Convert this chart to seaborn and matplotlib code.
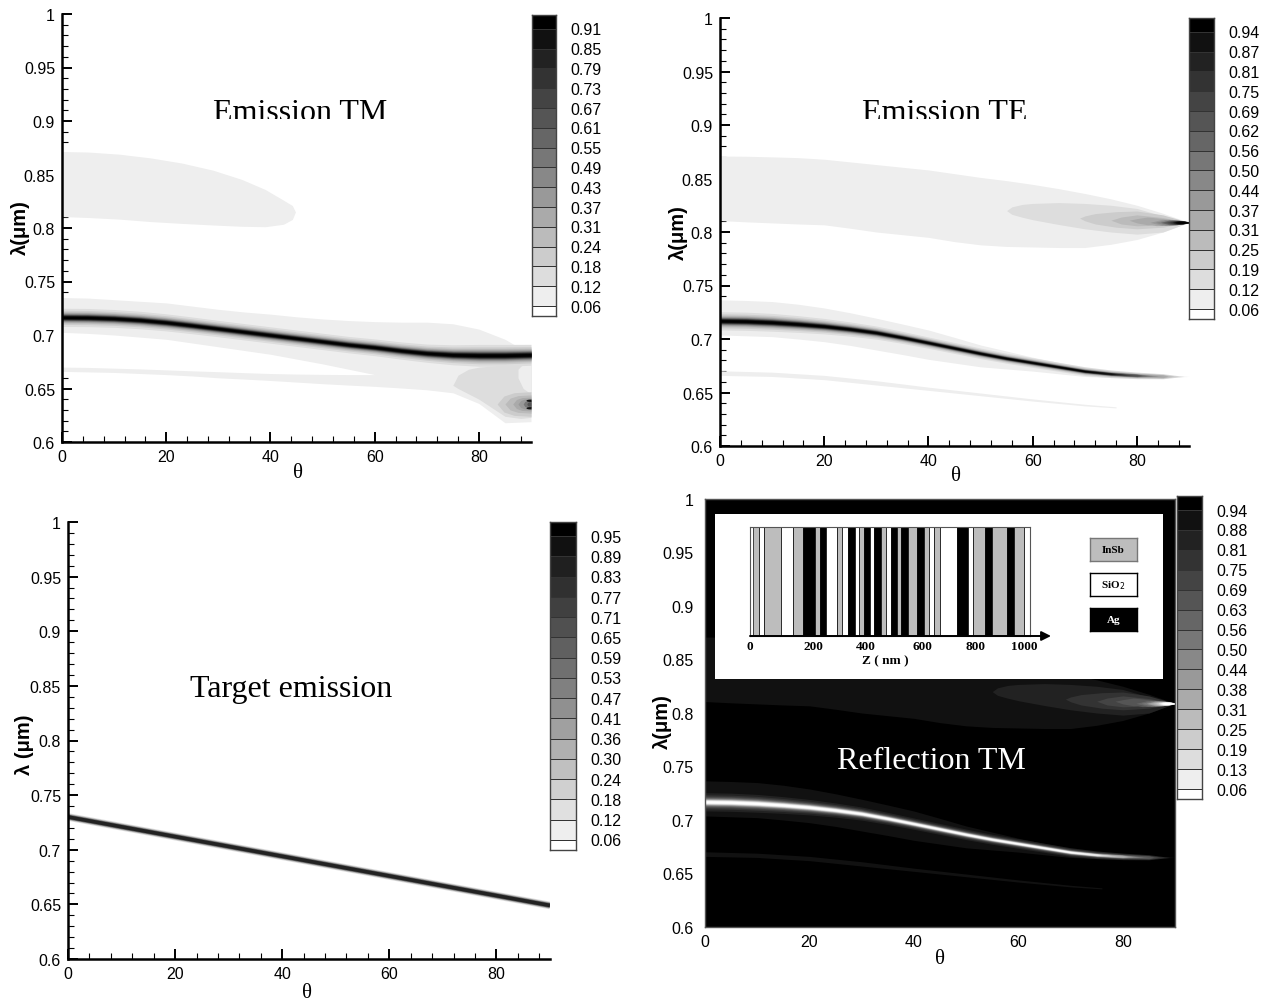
import numpy as np
import seaborn as sns
import matplotlib.pyplot as plt
from matplotlib.transforms import Bbox

W, H = 1269, 1003

# ---------- colour bar levels ----------
labels_tm = ['0.91', '0.85', '0.79', '0.73', '0.67', '0.61', '0.55', '0.49', '0.43', '0.37', '0.31', '0.24', '0.18', '0.12', '0.06']
labels_te = ['0.94', '0.87', '0.81', '0.75', '0.69', '0.62', '0.56', '0.50', '0.44', '0.37', '0.31', '0.25', '0.19', '0.12', '0.06']
labels_target = ['0.95', '0.89', '0.83', '0.77', '0.71', '0.65', '0.59', '0.53', '0.47', '0.41', '0.36', '0.30', '0.24', '0.18', '0.12', '0.06']
labels_refl = ['0.94', '0.88', '0.81', '0.75', '0.69', '0.63', '0.56', '0.50', '0.44', '0.38', '0.31', '0.25', '0.19', '0.13', '0.06']

greys = ['#000000', '#111111', '#222222', '#333333', '#444444', '#555555', '#666666', '#777777',
         '#888888', '#999999', '#aaaaaa', '#bbbbbb', '#cccccc', '#dddddd', '#eeeeee', '#ffffff']
greys_target = ['#000000', '#111111', '#202020', '#303030', '#404040', '#505050', '#606060', '#707070', '#808080',
                '#909090', '#a0a0a0', '#b0b0b0', '#c0c0c0', '#d0d0d0', '#e0e0e0', '#eeeeee', '#ffffff']

# ---------- curves, stations every 5 degrees ----------
theta = np.arange(0, 95, 5)

# half width of the ridge at the levels 0.12 ... 0.91 (um)
ridge_levels = [0.0085, 0.0066, 0.0054, 0.0046, 0.0040, 0.0035, 0.0031, 0.0028, 0.0025, 0.0022, 0.0020, 0.0017, 0.0014, 0.0010]

tm_centre = [.7165, .7163, .7155, .714, .7118, .709, .706, .703, .700, .697, .694, .691, .6885, .6855, .683, .6815, .681, .681, .6815]
tm_width = [1.0, 1.0, .98, .96, .94, .92, .9, .9, .9, .9, .9, .9, .92, .95, 1.0, 1.1, 1.2, 1.2, 1.15]
tm_top = [.735, .7345, .733, .7315, .730, .727, .724, .7215, .7195, .717, .715, .7135, .7125, .712, .712, .7105, .7055, .696, .682]
tm_bottom = [.666, .6655, .665, .664, .663, .6617, .660, .6588, .6575, .656, .6545, .6532, .652, .6505, .6488, .646, .636, .618, .619]
tm_gap_top = [.7025, .7015, .700, .698, .696, .6925, .689, .6855, .682, .6775, .673, .668, .663]
tm_gap_bottom = [.670, .6697, .669, .6683, .6674, .6665, .6657, .6648, .664, .6635, .6632, .663, .663]

tm_lobe_theta = [0, 5, 11, 17, 23, 29, 34.5, 39, 42.5, 44.2, 44.8]
tm_lobe_top = [.8715, .871, .869, .8655, .8607, .854, .8454, .836, .826, .821, .815]
tm_lobe_bottom = [.8107, .8098, .8083, .806, .8043, .8028, .8016, .8012, .8035, .808, .815]

tm_shelf_theta = [75, 76, 78, 80, 85, 88, 90]
tm_shelf_top = [.653, .6625, .668, .670, .672, .672, .672]
tm_shelf_bottom = [.653, .650, .645, .640, .624, .622, .623]
tm_notch_theta = [87.5, 88.5, 90]
tm_notch_top = [.668, .673, .675]
tm_notch_bottom = [.66, .65, .645]
tm_spot_start = [83.5, 85, 86.5, 87.5, 88.5, 89.2]
tm_spot_half = [.0115, .0085, .0065, .005, .0035, .0022]
tm_spot_grey = [12, 11, 10, 9, 7, 5]
tm_dark_spots = [.639, .632]

# theta where each ridge level dies out, TM keeps all of them up to the edge
tm_level_end = [90] * 14
te_level_end = [89, 88, 87, 86, 85, 84, 83, 82, 81, 80, 79, 78, 76, 74]

te_centre = [.717, .7166, .7156, .714, .712, .7093, .706, .7015, .6966, .6916, .6866, .682, .678, .674, .670, .6675, .666, .6652, .665]
te_width = [1.0, 1.0, .98, .92, .85, .78, .72, .66, .62, .6, .58, .55, .53, .5, .48, .42, .36, .28, .1]
te_top = [.7366, .736, .735, .7325, .729, .7245, .7194, .714, .7084, .7015, .6944, .6887, .683, .678, .6734, .6705, .6684, .6665, .665]
te_bottom = [.7038, .703, .7022, .7, .6975, .694, .6897, .6855, .681, .6775, .674, .672, .670, .6675, .665, .664, .6637, .664, .665]
te_side_theta = [0, 10, 20, 30, 40, 50, 60, 70, 76]
te_side_top = [.6703, .669, .666, .661, .655, .6495, .644, .639, .6366]
te_side_bottom = [.666, .665, .662, .657, .652, .647, .642, .6375, .6356]
te_lobe_top = [.871, .8708, .8702, .8695, .868, .8655, .863, .8605, .858, .8545, .851, .848, .8445, .8405, .836, .831, .825, .8175, .809]
te_lobe_bottom = [.8107, .8095, .8085, .8075, .8067, .8035, .800, .7975, .795, .791, .788, .7865, .786, .7855, .7855, .7885, .793, .80, .809]

# nested tongues of the 0.81 um resonance on the right hand side
tongue_theta = [[55, 56, 58, 60, 65, 70, 75, 80, 85, 90], [69, 70, 72, 76, 80, 85, 90], [75, 77, 80, 85, 90], [78.5, 80, 82, 86, 90]]
tongue_top = [[.82, .8235, .8258, .8267, .8275, .8267, .825, .822, .815, .809], [.813, .815, .8172, .819, .8196, .816, .809], [.811, .814, .816, .8135, .809], [.811, .8125, .814, .812, .809]]
tongue_bottom = [[.82, .8165, .8138, .8115, .807, .803, .80, .798, .80, .809], [.813, .8105, .8075, .8045, .803, .8045, .809], [.811, .8075, .8058, .8065, .809], [.811, .8085, .8068, .8075, .809]]
core_start = [81, 82.5, 83.5, 84.5, 85.2, 85.8, 86.3, 86.8, 87.3]
core_half = [.0036, .0032, .0028, .0025, .0022, .002, .0018, .0016, .0014]
core_grey = [10, 9, 8, 6, 5, 4, 3, 1, 0]

target_theta = [0, 30, 60, 90]
target_lambda = [.730, .703, .676, .649]

# ---------- layer stack of the inset ----------
layer_thickness = [21, 20, 61, 44, 39, 44, 17, 24, 40, 20, 20, 26, 16, 16, 24, 16, 24, 18,
                   18, 24, 15, 25, 34, 24, 18, 21, 22, 60, 44, 18, 42, 25, 57, 27, 37, 21]
layer_material = list('gwgwgbgbwgwbwgbwbgwbgbgbgwgwbwgbgbgw')
material_colour = {'g': '#bdbdbd', 'w': '#ffffff', 'b': '#000000'}
z_tick_pos = [-11, 223, 416, 624, 821, 1000]
z_tick_labels = ['0', '200', '400', '600', '800', '1000']

y_ticks = [.6, .65, .7, .75, .8, .85, .9, .95, 1]
y_labels = ['0.6', '0.65', '0.7', '0.75', '0.8', '0.85', '0.9', '0.95', '1']
x_ticks = [0, 20, 40, 60, 80]

sns.set_style('white')
plt.rcParams['font.family'] = ['Liberation Sans', 'DejaVu Sans']
plt.rcParams['text.color'] = 'black'
plt.rcParams['xtick.color'] = 'black'
plt.rcParams['ytick.color'] = 'black'
plt.rcParams['axes.labelcolor'] = 'black'
fig = plt.figure(figsize=(W / 100, H / 100), dpi=100)


def px_axes(left, top, right, bottom, **kw):
    return fig.add_axes([left / W, 1 - bottom / H, (right - left) / W, (bottom - top) / H], **kw)


def px_text(x, y, s, **kw):
    kw.setdefault('ha', 'center')
    kw.setdefault('va', 'center')
    return fig.text(x / W, 1 - y / H, s, **kw)


def field_axes(left, top, right, bottom, dark=False):
    ax = px_axes(left, top, right, bottom)
    ax.set_xlim(0, 90)
    ax.set_ylim(.6, 1)
    ax.set_xticks(x_ticks)
    ax.set_yticks(y_ticks)
    ax.set_yticklabels(y_labels)
    ax.set_xticks(np.arange(0, 90, 4), minor=True)
    ax.set_yticks(np.arange(.6, 1.0, .01), minor=True)
    ax.tick_params(which='major', direction='in', length=7, width=1.4, labelsize=11.5, pad=5, left=True, bottom=True)
    ax.tick_params(which='minor', direction='in', length=4, width=.8, left=True, bottom=True)
    for s in ['top', 'right']:
        ax.spines[s].set_visible(dark)
    for s in ['left', 'bottom']:
        ax.spines[s].set_linewidth(1.8)
        ax.spines[s].set_color('black')
    if dark:
        ax.set_facecolor('black')
        ax.tick_params(which='both', length=0)
        ax.tick_params(axis='y', which='major', pad=8)
        ax.tick_params(axis='x', which='major', pad=5)
        for s in ax.spines.values():
            s.set_linewidth(1)
            s.set_color('#555555')
    return ax


def colour_bar(left, top, right, bottom, labels, band_greys):
    ax = px_axes(left, top, right, bottom)
    n = len(band_greys)
    sns.heatmap(np.arange(n).reshape(n, 1), ax=ax, cmap=band_greys, vmin=0, vmax=n - 1, cbar=False,
                xticklabels=False, yticklabels=False, linewidths=.7, linecolor='#333333')
    ax.set_ylim(n - .5, .3)
    ax.yaxis.tick_right()
    ax.set_yticks(np.arange(1, n) - .02)
    ax.set_yticklabels(labels, rotation=0, fontsize=11.5)
    ax.tick_params(axis='y', length=0, pad=10)
    for s in ax.spines.values():
        s.set_visible(True)
        s.set_color('#444444')
        s.set_linewidth(1)


def ridge(ax, centre, width, level_end, palette):
    c = np.array(centre)
    w = np.array(width)
    # palette[13] is the band 0.12-0.18, palette[0] the top band
    for k, half in enumerate(ridge_levels):
        keep = theta < level_end[k]
        xs = np.append(theta[keep], level_end[k])
        mid = np.append(c[keep], np.interp(level_end[k], theta, c))
        hw = np.append(half * w[keep], half * np.interp(level_end[k], theta, w) * (level_end[k] >= 90))
        ax.fill_between(xs, mid - hw, mid + hw, color=palette[13 - k], lw=0)


def spindle(ax, start, half, mid, colour, blunt=False):
    if blunt:
        xs = [start, start + .2 * (90 - start), start + .5 * (90 - start), 90]
        hs = [0, half * .65, half * .92, half]
    else:
        xs = [start, start + .3 * (90 - start), start + .65 * (90 - start), 90]
        hs = [0, half * .85, half * .75, half * .2]
    ax.fill_between(xs, mid - np.array(hs), mid + np.array(hs), color=colour, lw=0)


def draw_te(ax, palette):
    ax.fill_between(theta, te_lobe_bottom, te_lobe_top, color=palette[14], lw=0)
    for k in range(len(tongue_theta)):
        ax.fill_between(tongue_theta[k], tongue_bottom[k], tongue_top[k], color=palette[13 - k], lw=0)
    for start, half, g in zip(core_start, core_half, core_grey):
        spindle(ax, start, half, .809, palette[g])
    ax.fill_between(theta, te_bottom, te_top, color=palette[14], lw=0)
    ax.fill_between(te_side_theta, te_side_bottom, te_side_top, color=palette[14], lw=0)
    ridge(ax, te_centre, te_width, te_level_end, palette)


def clipped_title(x, y, s, clip_y):
    t = px_text(x, y, s, family='Liberation Serif', fontsize=23)
    t.set_clip_box(Bbox([[x - 150, H - clip_y], [x + 150, H - clip_y + 50]]))
    t.set_clip_on(True)


# ---------- Emission TM ----------
ax = field_axes(62, 15, 531, 443)
ax.fill_between(tm_lobe_theta, tm_lobe_bottom, tm_lobe_top, color=greys[14], lw=0)
ax.fill_between(theta, tm_bottom, tm_top, color=greys[14], lw=0)
ax.fill_between(theta[:13], tm_gap_bottom, tm_gap_top, color='white', lw=0)
ax.fill_between(tm_shelf_theta, tm_shelf_bottom, tm_shelf_top, color=greys[13], lw=0)
ax.fill_between(tm_notch_theta, tm_notch_bottom, tm_notch_top, color=greys[14], lw=0)
for start, half, g in zip(tm_spot_start, tm_spot_half, tm_spot_grey):
    spindle(ax, start, half, .6355, greys[g], blunt=True)
for mid in tm_dark_spots:
    spindle(ax, 89, .0011, mid, greys[1], blunt=True)
ridge(ax, tm_centre, tm_width, tm_level_end, greys)
colour_bar(532, 16, 556, 317, labels_tm, greys)
clipped_title(300, 114, 'Emission TM', 120)
px_text(20, 228, 'λ(μm)', rotation=90, fontsize=14.5, fontweight='bold')
px_text(298, 474, 'θ', family='Liberation Serif', fontsize=15)

# ---------- Emission TE ----------
ax = field_axes(720, 19, 1189, 447)
draw_te(ax, greys)
colour_bar(1189, 19, 1214, 320, labels_te, greys)
clipped_title(945, 114, 'Emission TE', 120)
px_text(678, 233, 'λ(μm)', rotation=90, fontsize=14.5, fontweight='bold')
px_text(956, 477, 'θ', family='Liberation Serif', fontsize=15)

# ---------- Target emission ----------
ax = field_axes(68, 523, 550, 960)
for lw, g in zip([5.5, 4.4, 3.4, 2.6], [greys[13], greys[10], greys[6], greys[2]]):
    sns.lineplot(x=target_theta, y=target_lambda, ax=ax, color=g, linewidth=lw, solid_capstyle='butt', estimator=None)
colour_bar(550, 523, 576, 851, labels_target, greys_target)
px_text(291, 689, 'Target emission', family='Liberation Serif', fontsize=23)
px_text(24, 745, 'λ (μm)', rotation=90, fontsize=14.5, fontweight='bold')
px_text(307, 994, 'θ', family='Liberation Serif', fontsize=15)

# ---------- Reflection TM ----------
ax = field_axes(705, 500, 1175, 928, dark=True)
draw_te(ax, greys[::-1])
colour_bar(1177, 497, 1202, 800, labels_refl, greys)
px_text(931, 762, 'Reflection TM', family='Liberation Serif', fontsize=23, color='white')
px_text(662, 722, 'λ(μm)', rotation=90, fontsize=14.5, fontweight='bold')
px_text(940, 960, 'θ', family='Liberation Serif', fontsize=15)

# inset with the layer stack
panel = px_axes(715, 515, 1163, 680, facecolor='white', zorder=5)
panel.set_xticks([])
panel.set_yticks([])
for s in panel.spines.values():
    s.set_visible(False)

stack = px_axes(750, 528, 1030, 637, zorder=6)
edges = np.concatenate([[0], np.cumsum(layer_thickness)[:-1]])
stack.bar(edges, [1] * len(edges), width=layer_thickness, align='edge',
          color=[material_colour[m] for m in layer_material], edgecolor='black', linewidth=.5)
stack.set_xlim(0, 1022)
stack.set_ylim(0, 1)
stack.set_yticks([])
stack.set_xticks(z_tick_pos)
stack.set_xticklabels(z_tick_labels, family='Liberation Serif', fontweight='bold', fontsize=9.5)
stack.tick_params(axis='x', length=0, pad=3)
for s in stack.spines.values():
    s.set_linewidth(.8)
    s.set_color('#555555')
stack.annotate('', xy=(1.075, 0), xytext=(0, 0), xycoords='axes fraction',
               arrowprops=dict(arrowstyle='-|>', color='black', lw=1.4, mutation_scale=14, shrinkA=0, shrinkB=0),
               annotation_clip=False)
px_text(885, 661, 'Z ( nm )', family='Liberation Serif', fontweight='bold', fontsize=9.5, zorder=7)

legend_tops = [539, 574, 609]
legend_names = ['InSb', 'SiO$_2$', 'Ag']
legend_fill = ['#bdbdbd', 'white', 'black']
legend_text = ['black', 'black', 'white']
legend_edge = ['#777777', 'black', 'black']
for top, name, fill, tc, ec in zip(legend_tops, legend_names, legend_fill, legend_text, legend_edge):
    box = px_axes(1090, top, 1137, top + 23, facecolor=fill, zorder=6)
    box.set_xticks([])
    box.set_yticks([])
    for s in box.spines.values():
        s.set_color(ec)
        s.set_linewidth(1)
    box.text(.5, .5, name, transform=box.transAxes, ha='center', va='center', color=tc,
             family='Liberation Serif', fontweight='bold', fontsize=8)

fig.savefig('out.png', dpi=100)
